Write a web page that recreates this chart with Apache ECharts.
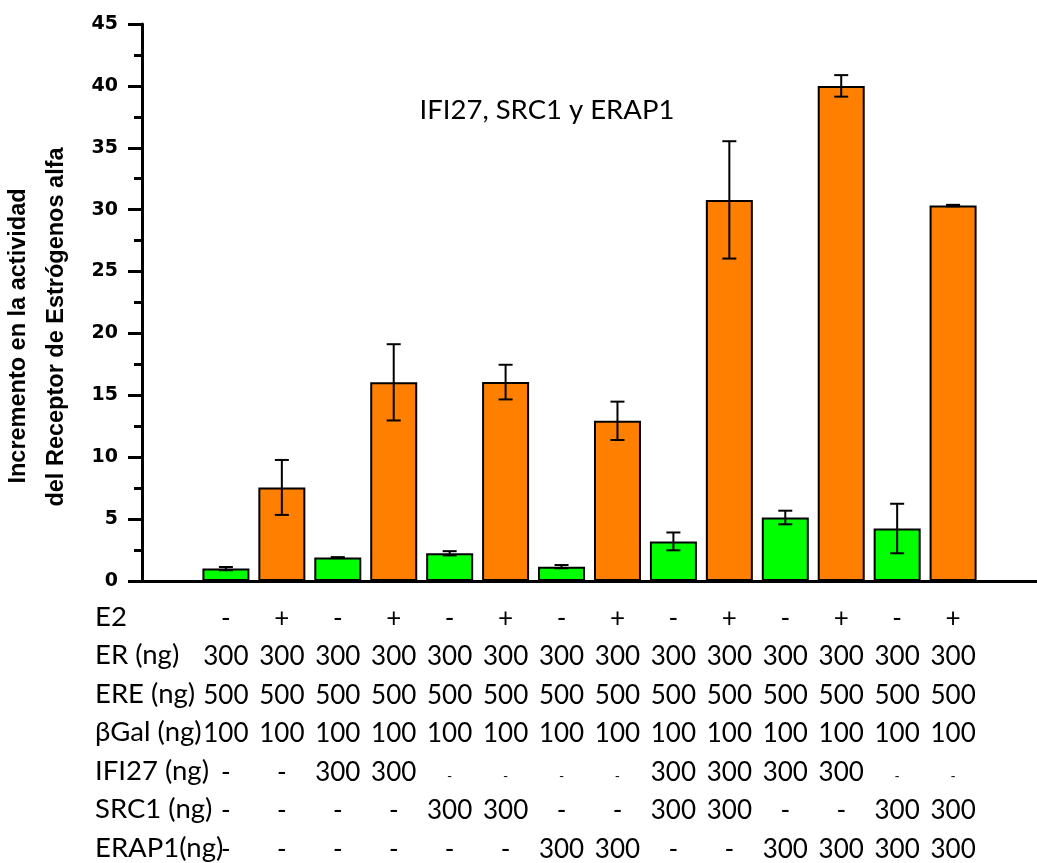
<!DOCTYPE html>
<html>
<head>
<meta charset="utf-8">
<script src="https://cdn.jsdelivr.net/npm/echarts@6/dist/echarts.min.js"></script>
<style>
    html, body {margin: 0; padding: 0; background: #fff;}
    #chart {width: 1037px; height: 863px;}
</style>
</head>
<body>
<div id="chart"></div>
<script>
// datos (14 condiciones)
var meanValues = [1.0, 7.56, 1.89, 16.05, 2.24, 16.07, 1.16, 12.94, 3.2, 30.79, 5.13, 40.0, 4.24, 30.33];
var errValues = [0.13, 2.22, 0.04, 3.08, 0.17, 1.4, 0.13, 1.55, 0.72, 4.74, 0.55, 0.87, 2.0, 0.06];

var rowLabels = ['E2', 'ER (ng)', 'ERE (ng)', 'βGal (ng)', 'IFI27 (ng)', 'SRC1 (ng)', 'ERAP1(ng)'];
var e2 = ['-', '+', '-', '+', '-', '+', '-', '+', '-', '+', '-', '+', '-', '+'];
var er = ['300', '300', '300', '300', '300', '300', '300', '300', '300', '300', '300', '300', '300', '300'];
var ere = ['500', '500', '500', '500', '500', '500', '500', '500', '500', '500', '500', '500', '500', '500'];
var bgal = ['100', '100', '100', '100', '100', '100', '100', '100', '100', '100', '100', '100', '100', '100'];
var ifi27 = ['-', '-', '300', '300', '_', '_', '_', '_', '300', '300', '300', '300', '_', '_'];
var src1 = ['-', '-', '-', '-', '300', '300', '-', '-', '300', '300', '-', '-', '300', '300'];
var erap1 = ['-', '-', '-', '-', '-', '-', '300', '300', '-', '-', '300', '300', '300', '300'];

var title = 'IFI27, SRC1 y ERAP1';
var yTitle1 = 'Incremento en la actividad';
var yTitle2 = 'del Receptor de Estrógenos alfa';

var chart = echarts.init(document.getElementById('chart'));

// una categoria vacia al principio y otra al final
var tableRows = [e2, er, ere, bgal, ifi27, src1, erap1];
var categories = [''];
for (var i = 0; i < meanValues.length; i++) {
    var lines = tableRows.map(function (row) {
        return row[i] === '_' ? '{s|-}' : '{t|' + row[i] + '}';
    });
    categories.push(lines.join('\n'));
}
categories.push('');

var barData = [null];
var errData = [];
for (var j = 0; j < meanValues.length; j++) {
    barData.push({
        value: meanValues[j],
        itemStyle: {color: e2[j] === '+' ? '#FF8000' : '#00FF00'}
    });
    errData.push([j + 1, meanValues[j] - errValues[j], meanValues[j] + errValues[j]]);
}
barData.push(null);

var option = {
    animation: false,
    backgroundColor: '#fff',
    grid: {left: 142, top: 24, width: 902, height: 557},
    xAxis: [{
        type: 'category',
        data: categories,
        axisLine: {lineStyle: {color: '#000', width: 3}},
        axisTick: {alignWithLabel: true, interval: 0, length: 12, lineStyle: {color: '#000', width: 3}},
        axisLabel: {
            interval: 0,
            margin: 18,
            verticalAlign: 'top',
            color: '#000',
            rich: {
                t: {fontFamily: 'Lato', fontSize: 26, lineHeight: 38.5, color: '#000'},
                s: {fontFamily: 'Lato', fontSize: 14, lineHeight: 38.5, color: '#000', padding: [8, 0, 0, 0]}
            }
        }
    }, {
        type: 'category',
        data: categories,
        position: 'bottom',
        axisLine: {show: false},
        axisTick: {interval: 0, length: 5, lineStyle: {color: '#000', width: 3}},
        axisLabel: {show: false}
    }],
    yAxis: {
        type: 'value',
        min: 0,
        max: 45,
        interval: 5,
        splitLine: {show: false},
        axisLine: {show: true, lineStyle: {color: '#000', width: 3}},
        axisTick: {show: true, length: 14, lineStyle: {color: '#000', width: 3}},
        minorTick: {show: true, splitNumber: 2, length: 8, lineStyle: {color: '#000', width: 3}},
        axisLabel: {margin: 24, color: '#000', fontFamily: 'DejaVu Sans', fontWeight: 'bold', fontSize: 19}
    },
    graphic: [
        {type: 'text', x: 547, y: 110, style: {text: title, fill: '#000', font: '27.5px Lato', align: 'center', verticalAlign: 'middle'}},
        {type: 'text', x: 19, y: 336, rotation: Math.PI / 2, style: {text: yTitle1, fill: '#000', font: 'bold 23.5px "Liberation Sans"', align: 'center', verticalAlign: 'middle'}},
        {type: 'text', x: 57, y: 327, rotation: Math.PI / 2, style: {text: yTitle2, fill: '#000', font: 'bold 23.5px "Liberation Sans"', align: 'center', verticalAlign: 'middle'}}
    ].concat(rowLabels.map(function (txt, k) {
        return {type: 'text', x: 95, y: 617 + k * 38.5, style: {text: txt, fill: '#000', font: '27.5px Lato', align: 'left', verticalAlign: 'middle'}};
    })),
    series: [{
        type: 'bar',
        data: barData,
        barWidth: 47,
        itemStyle: {borderColor: '#000', borderWidth: 2}
    }, {
        type: 'custom',
        data: errData,
        z: 5,
        renderItem: function (params, api) {
            var x = api.value(0);
            var lo = api.coord([x, api.value(1)]);
            var hi = api.coord([x, api.value(2)]);
            var cap = 7;
            var st = {stroke: '#000', lineWidth: 2};
            return {
                type: 'group',
                children: [
                    {type: 'line', shape: {x1: lo[0], y1: lo[1], x2: hi[0], y2: hi[1]}, style: st},
                    {type: 'line', shape: {x1: lo[0] - cap, y1: lo[1], x2: lo[0] + cap, y2: lo[1]}, style: st},
                    {type: 'line', shape: {x1: hi[0] - cap, y1: hi[1], x2: hi[0] + cap, y2: hi[1]}, style: st}
                ]
            };
        }
    }]
};

chart.setOption(option);
</script>
</body>
</html>
